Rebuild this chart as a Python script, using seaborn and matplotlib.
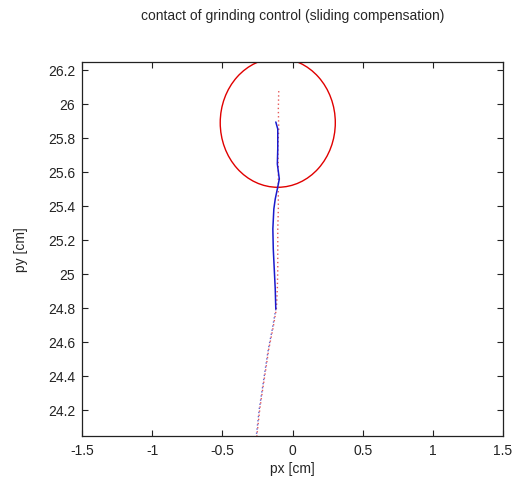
import matplotlib
matplotlib.use("Agg")
import matplotlib.pyplot as plt
from matplotlib.patches import Ellipse
import seaborn as sns
import pandas as pd

# reference (desired) trajectory - red dotted
ref_x = [-0.098, -0.101, -0.098, -0.105, -0.101, -0.101, -0.101, -0.105, -0.105,
         -0.105, -0.108, -0.115, -0.140, -0.169, -0.190, -0.212, -0.233, -0.254]
ref_y = [26.076, 25.971, 25.853, 25.735, 25.618, 25.500, 25.382, 25.265, 25.147,
         25.029, 24.912, 24.794, 24.676, 24.559, 24.441, 24.324, 24.206, 24.047]

# measured trajectory - blue solid (upper part)
meas_x = [-0.119, -0.105, -0.105, -0.108, -0.094, -0.105, -0.123, -0.133, -0.140,
          -0.137, -0.130, -0.123, -0.119]
meas_y = [25.894, 25.853, 25.735, 25.647, 25.559, 25.512, 25.441, 25.382, 25.265,
          25.147, 25.029, 24.912, 24.794]

# measured trajectory - blue dotted (lower part)
meas2_x = [-0.119, -0.144, -0.172, -0.194, -0.215, -0.237, -0.258]
meas2_y = [24.794, 24.676, 24.559, 24.441, 24.324, 24.206, 24.047]

# contact circle
circle_center = (-0.105, 25.89)
circle_rx = 0.41
circle_ry = 0.38

x_ticks = [-1.5, -1, -0.5, 0, 0.5, 1, 1.5]
x_tick_labels = ["-1.5", "-1", "-0.5", "0", "0.5", "1", "1.5"]
y_ticks = [24.2, 24.4, 24.6, 24.8, 25, 25.2, 25.4, 25.6, 25.8, 26, 26.2]
y_tick_labels = ["24.2", "24.4", "24.6", "24.8", "25", "25.2", "25.4", "25.6", "25.8", "26", "26.2"]

sns.set_theme(style="ticks")
plt.rcParams["font.family"] = ["Liberation Sans", "DejaVu Sans"]

fig = plt.figure(figsize=(5.14, 4.85), dpi=100)
ax = fig.add_axes([82 / 514, 48 / 485, 421 / 514, 374 / 485])

df_ref = pd.DataFrame({"x": ref_x, "y": ref_y})
df_m = pd.DataFrame({"x": meas_x, "y": meas_y})
df_m2 = pd.DataFrame({"x": meas2_x, "y": meas2_y})

sns.lineplot(data=df_ref, x="x", y="y", sort=False, estimator=None, ax=ax,
             color="#e03030", linestyle=(0, (1, 2)), linewidth=1.0, alpha=0.8)
sns.lineplot(data=df_m, x="x", y="y", sort=False, estimator=None, ax=ax,
             color="#1a1acc", linewidth=1.1)
sns.lineplot(data=df_m2, x="x", y="y", sort=False, estimator=None, ax=ax,
             color="#4040c0", linestyle=(0, (1, 2)), linewidth=1.0, alpha=0.8)

ax.add_patch(Ellipse(circle_center, 2 * circle_rx, 2 * circle_ry, fill=False,
                     edgecolor="#e00000", linewidth=1.0))

ax.set_xlim(-1.5, 1.5)
ax.set_ylim(24.047, 26.247)
ax.set_xticks(x_ticks)
ax.set_xticklabels(x_tick_labels)
ax.set_yticks(y_ticks)
ax.set_yticklabels(y_tick_labels)
ax.tick_params(direction="in", top=True, right=True, length=4, width=0.8,
               labelsize=10, colors="#222222", pad=5)
for s in ax.spines.values():
    s.set_visible(True)
    s.set_color("#222222")
    s.set_linewidth(0.9)

ax.set_xlabel("px [cm]", fontsize=10, labelpad=3)
ax.set_ylabel("py [cm]", fontsize=10, labelpad=14)
ax.set_title("contact of grinding control (sliding compensation)", fontsize=10, pad=31)

fig.savefig("out.png", dpi=100, facecolor="white")
